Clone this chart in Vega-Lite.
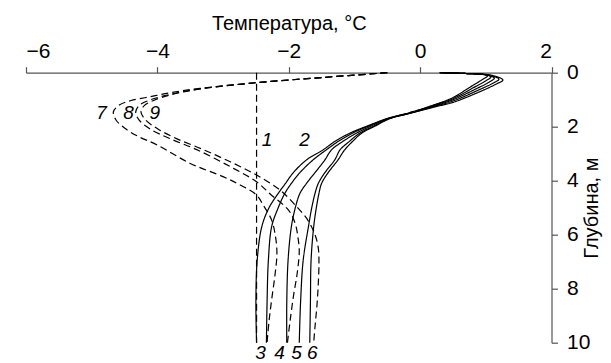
{
  "$schema": "https://vega.github.io/schema/vega-lite/v6.json",
  "autosize": {"type": "none"},
  "padding": {"left": 26, "top": 72.7, "right": 59.5, "bottom": 20.3},
  "width": 525.5,
  "height": 270,
  "config": {
    "view": {"stroke": null},
    "font": "Liberation Sans",
    "axis": {"grid": false, "domainColor": "#555", "tickColor": "#555", "labelColor": "#000", "titleColor": "#000", "labelFont": "Liberation Sans", "titleFont": "Liberation Sans", "labelFontSize": 21, "titleFontSize": 20, "titleFontWeight": "normal", "tickSize": 6, "domainWidth": 1.2, "tickWidth": 1.2}
  },
  "datasets": {
    "curves": [
      {"s": "1", "k": "dashed", "T": -2.49, "d": 0},
      {"s": "1", "k": "dashed", "T": -2.49, "d": 10},

      {"s": "A", "k": "solid", "T": 0.3, "d": 0},
      {"s": "A", "k": "solid", "T": 0.7, "d": 0.03},
      {"s": "A", "k": "solid", "T": 0.95, "d": 0.06},
      {"s": "A", "k": "solid", "T": 1.03, "d": 0.11},
      {"s": "A", "k": "solid", "T": 0.95, "d": 0.25},
      {"s": "A", "k": "solid", "T": 0.75, "d": 0.55},
      {"s": "A", "k": "solid", "T": 0.5, "d": 0.92},
      {"s": "A", "k": "solid", "T": 0.2, "d": 1.2},
      {"s": "A", "k": "solid", "T": -0.15, "d": 1.47},
      {"s": "A", "k": "solid", "T": -0.5, "d": 1.7},
      {"s": "A", "k": "solid", "T": -0.8, "d": 1.97},
      {"s": "A", "k": "solid", "T": -1.07, "d": 2.24},
      {"s": "A", "k": "solid", "T": -1.3, "d": 2.55},
      {"s": "A", "k": "solid", "T": -1.48, "d": 2.86},
      {"s": "A", "k": "solid", "T": -1.73, "d": 3.23},
      {"s": "A", "k": "solid", "T": -1.93, "d": 3.7},
      {"s": "A", "k": "solid", "T": -2.05, "d": 4.1},
      {"s": "A", "k": "solid", "T": -2.16, "d": 4.47},
      {"s": "A", "k": "solid", "T": -2.3, "d": 5.0},
      {"s": "A", "k": "solid", "T": -2.41, "d": 5.7},
      {"s": "A", "k": "solid", "T": -2.48, "d": 6.94},
      {"s": "A", "k": "solid", "T": -2.5, "d": 8.5},
      {"s": "A", "k": "solid", "T": -2.49, "d": 10},

      {"s": "B", "k": "solid", "T": 0.3, "d": 0},
      {"s": "B", "k": "solid", "T": 0.7, "d": 0.03},
      {"s": "B", "k": "solid", "T": 0.97, "d": 0.07},
      {"s": "B", "k": "solid", "T": 1.08, "d": 0.15},
      {"s": "B", "k": "solid", "T": 1.0, "d": 0.3},
      {"s": "B", "k": "solid", "T": 0.8, "d": 0.57},
      {"s": "B", "k": "solid", "T": 0.5, "d": 0.96},
      {"s": "B", "k": "solid", "T": 0.2, "d": 1.22},
      {"s": "B", "k": "solid", "T": -0.15, "d": 1.48},
      {"s": "B", "k": "solid", "T": -0.5, "d": 1.7},
      {"s": "B", "k": "solid", "T": -0.78, "d": 1.97},
      {"s": "B", "k": "solid", "T": -1.03, "d": 2.24},
      {"s": "B", "k": "solid", "T": -1.25, "d": 2.55},
      {"s": "B", "k": "solid", "T": -1.43, "d": 2.86},
      {"s": "B", "k": "solid", "T": -1.63, "d": 3.23},
      {"s": "B", "k": "solid", "T": -1.83, "d": 3.7},
      {"s": "B", "k": "solid", "T": -1.96, "d": 4.1},
      {"s": "B", "k": "solid", "T": -2.06, "d": 4.47},
      {"s": "B", "k": "solid", "T": -2.16, "d": 5.0},
      {"s": "B", "k": "solid", "T": -2.26, "d": 5.7},
      {"s": "B", "k": "solid", "T": -2.31, "d": 6.94},
      {"s": "B", "k": "solid", "T": -2.33, "d": 8.5},
      {"s": "B", "k": "solid", "T": -2.34, "d": 10},

      {"s": "C", "k": "solid", "T": 0.3, "d": 0},
      {"s": "C", "k": "solid", "T": 0.7, "d": 0.03},
      {"s": "C", "k": "solid", "T": 1.0, "d": 0.08},
      {"s": "C", "k": "solid", "T": 1.13, "d": 0.2},
      {"s": "C", "k": "solid", "T": 1.05, "d": 0.35},
      {"s": "C", "k": "solid", "T": 0.85, "d": 0.6},
      {"s": "C", "k": "solid", "T": 0.5, "d": 1.0},
      {"s": "C", "k": "solid", "T": 0.2, "d": 1.24},
      {"s": "C", "k": "solid", "T": -0.15, "d": 1.49},
      {"s": "C", "k": "solid", "T": -0.48, "d": 1.7},
      {"s": "C", "k": "solid", "T": -0.74, "d": 1.97},
      {"s": "C", "k": "solid", "T": -0.97, "d": 2.24},
      {"s": "C", "k": "solid", "T": -1.18, "d": 2.55},
      {"s": "C", "k": "solid", "T": -1.35, "d": 2.86},
      {"s": "C", "k": "solid", "T": -1.45, "d": 3.23},
      {"s": "C", "k": "solid", "T": -1.6, "d": 3.7},
      {"s": "C", "k": "solid", "T": -1.73, "d": 4.1},
      {"s": "C", "k": "solid", "T": -1.83, "d": 4.47},
      {"s": "C", "k": "solid", "T": -1.9, "d": 5.0},
      {"s": "C", "k": "solid", "T": -1.96, "d": 5.7},
      {"s": "C", "k": "solid", "T": -2.01, "d": 6.94},
      {"s": "C", "k": "solid", "T": -2.03, "d": 8.5},
      {"s": "C", "k": "solid", "T": -2.03, "d": 10},

      {"s": "D", "k": "solid", "T": 0.3, "d": 0},
      {"s": "D", "k": "solid", "T": 0.7, "d": 0.03},
      {"s": "D", "k": "solid", "T": 1.05, "d": 0.09},
      {"s": "D", "k": "solid", "T": 1.2, "d": 0.24},
      {"s": "D", "k": "solid", "T": 1.1, "d": 0.4},
      {"s": "D", "k": "solid", "T": 0.9, "d": 0.63},
      {"s": "D", "k": "solid", "T": 0.5, "d": 1.05},
      {"s": "D", "k": "solid", "T": 0.2, "d": 1.26},
      {"s": "D", "k": "solid", "T": -0.15, "d": 1.5},
      {"s": "D", "k": "solid", "T": -0.47, "d": 1.7},
      {"s": "D", "k": "solid", "T": -0.7, "d": 1.97},
      {"s": "D", "k": "solid", "T": -0.92, "d": 2.24},
      {"s": "D", "k": "solid", "T": -1.08, "d": 2.55},
      {"s": "D", "k": "solid", "T": -1.22, "d": 2.86},
      {"s": "D", "k": "solid", "T": -1.3, "d": 3.23},
      {"s": "D", "k": "solid", "T": -1.45, "d": 3.7},
      {"s": "D", "k": "solid", "T": -1.55, "d": 4.1},
      {"s": "D", "k": "solid", "T": -1.6, "d": 4.47},
      {"s": "D", "k": "solid", "T": -1.65, "d": 5.0},
      {"s": "D", "k": "solid", "T": -1.7, "d": 5.7},
      {"s": "D", "k": "solid", "T": -1.78, "d": 6.94},
      {"s": "D", "k": "solid", "T": -1.82, "d": 8.5},
      {"s": "D", "k": "solid", "T": -1.84, "d": 10},

      {"s": "E", "k": "solid", "T": 0.3, "d": 0},
      {"s": "E", "k": "solid", "T": 0.7, "d": 0.03},
      {"s": "E", "k": "solid", "T": 1.1, "d": 0.1},
      {"s": "E", "k": "solid", "T": 1.26, "d": 0.27},
      {"s": "E", "k": "solid", "T": 1.15, "d": 0.43},
      {"s": "E", "k": "solid", "T": 0.95, "d": 0.66},
      {"s": "E", "k": "solid", "T": 0.5, "d": 1.1},
      {"s": "E", "k": "solid", "T": 0.2, "d": 1.28},
      {"s": "E", "k": "solid", "T": -0.16, "d": 1.51},
      {"s": "E", "k": "solid", "T": -0.46, "d": 1.7},
      {"s": "E", "k": "solid", "T": -0.68, "d": 1.97},
      {"s": "E", "k": "solid", "T": -0.89, "d": 2.24},
      {"s": "E", "k": "solid", "T": -1.03, "d": 2.55},
      {"s": "E", "k": "solid", "T": -1.15, "d": 2.86},
      {"s": "E", "k": "solid", "T": -1.25, "d": 3.23},
      {"s": "E", "k": "solid", "T": -1.4, "d": 3.7},
      {"s": "E", "k": "solid", "T": -1.5, "d": 4.1},
      {"s": "E", "k": "solid", "T": -1.54, "d": 4.47},
      {"s": "E", "k": "solid", "T": -1.58, "d": 5.0},
      {"s": "E", "k": "solid", "T": -1.62, "d": 5.7},
      {"s": "E", "k": "solid", "T": -1.66, "d": 6.94},
      {"s": "E", "k": "solid", "T": -1.67, "d": 8.5},
      {"s": "E", "k": "solid", "T": -1.68, "d": 10},

      {"s": "7", "k": "dashed", "T": -0.5, "d": 0},
      {"s": "7", "k": "dashed", "T": -1.5, "d": 0.18},
      {"s": "7", "k": "dashed", "T": -2.49, "d": 0.37},
      {"s": "7", "k": "dashed", "T": -3.35, "d": 0.58},
      {"s": "7", "k": "dashed", "T": -3.8, "d": 0.74},
      {"s": "7", "k": "dashed", "T": -4.11, "d": 0.89},
      {"s": "7", "k": "dashed", "T": -4.4, "d": 1.03},
      {"s": "7", "k": "dashed", "T": -4.58, "d": 1.2},
      {"s": "7", "k": "dashed", "T": -4.67, "d": 1.45},
      {"s": "7", "k": "dashed", "T": -4.63, "d": 1.75},
      {"s": "7", "k": "dashed", "T": -4.5, "d": 2.05},
      {"s": "7", "k": "dashed", "T": -4.3, "d": 2.35},
      {"s": "7", "k": "dashed", "T": -4.0, "d": 2.68},
      {"s": "7", "k": "dashed", "T": -3.5, "d": 3.36},
      {"s": "7", "k": "dashed", "T": -3.0, "d": 3.85},
      {"s": "7", "k": "dashed", "T": -2.74, "d": 4.16},
      {"s": "7", "k": "dashed", "T": -2.49, "d": 4.53},
      {"s": "7", "k": "dashed", "T": -2.39, "d": 4.9},
      {"s": "7", "k": "dashed", "T": -2.26, "d": 5.46},
      {"s": "7", "k": "dashed", "T": -2.2, "d": 6.1},
      {"s": "7", "k": "dashed", "T": -2.18, "d": 6.7},
      {"s": "7", "k": "dashed", "T": -2.21, "d": 7.5},
      {"s": "7", "k": "dashed", "T": -2.26, "d": 8.4},
      {"s": "7", "k": "dashed", "T": -2.3, "d": 9.2},
      {"s": "7", "k": "dashed", "T": -2.33, "d": 10},

      {"s": "8", "k": "dashed", "T": -0.5, "d": 0},
      {"s": "8", "k": "dashed", "T": -1.5, "d": 0.18},
      {"s": "8", "k": "dashed", "T": -2.49, "d": 0.37},
      {"s": "8", "k": "dashed", "T": -3.35, "d": 0.6},
      {"s": "8", "k": "dashed", "T": -3.8, "d": 0.8},
      {"s": "8", "k": "dashed", "T": -4.1, "d": 1.0},
      {"s": "8", "k": "dashed", "T": -4.27, "d": 1.2},
      {"s": "8", "k": "dashed", "T": -4.33, "d": 1.45},
      {"s": "8", "k": "dashed", "T": -4.28, "d": 1.75},
      {"s": "8", "k": "dashed", "T": -4.1, "d": 2.1},
      {"s": "8", "k": "dashed", "T": -3.8, "d": 2.45},
      {"s": "8", "k": "dashed", "T": -3.4, "d": 2.85},
      {"s": "8", "k": "dashed", "T": -2.89, "d": 3.48},
      {"s": "8", "k": "dashed", "T": -2.49, "d": 4.04},
      {"s": "8", "k": "dashed", "T": -2.28, "d": 4.5},
      {"s": "8", "k": "dashed", "T": -2.0, "d": 5.1},
      {"s": "8", "k": "dashed", "T": -1.9, "d": 5.6},
      {"s": "8", "k": "dashed", "T": -1.86, "d": 6.1},
      {"s": "8", "k": "dashed", "T": -1.84, "d": 6.6},
      {"s": "8", "k": "dashed", "T": -1.87, "d": 7.4},
      {"s": "8", "k": "dashed", "T": -1.93, "d": 8.3},
      {"s": "8", "k": "dashed", "T": -1.98, "d": 9.2},
      {"s": "8", "k": "dashed", "T": -2.02, "d": 10},

      {"s": "9", "k": "dashed", "T": -0.5, "d": 0},
      {"s": "9", "k": "dashed", "T": -1.5, "d": 0.18},
      {"s": "9", "k": "dashed", "T": -2.49, "d": 0.37},
      {"s": "9", "k": "dashed", "T": -3.35, "d": 0.6},
      {"s": "9", "k": "dashed", "T": -3.8, "d": 0.82},
      {"s": "9", "k": "dashed", "T": -4.05, "d": 1.02},
      {"s": "9", "k": "dashed", "T": -4.2, "d": 1.22},
      {"s": "9", "k": "dashed", "T": -4.25, "d": 1.45},
      {"s": "9", "k": "dashed", "T": -4.18, "d": 1.75},
      {"s": "9", "k": "dashed", "T": -3.98, "d": 2.1},
      {"s": "9", "k": "dashed", "T": -3.7, "d": 2.45},
      {"s": "9", "k": "dashed", "T": -3.3, "d": 2.85},
      {"s": "9", "k": "dashed", "T": -2.89, "d": 3.3},
      {"s": "9", "k": "dashed", "T": -2.49, "d": 3.79},
      {"s": "9", "k": "dashed", "T": -2.13, "d": 4.35},
      {"s": "9", "k": "dashed", "T": -1.88, "d": 4.96},
      {"s": "9", "k": "dashed", "T": -1.71, "d": 5.46},
      {"s": "9", "k": "dashed", "T": -1.6, "d": 6.0},
      {"s": "9", "k": "dashed", "T": -1.55, "d": 6.5},
      {"s": "9", "k": "dashed", "T": -1.54, "d": 7.0},
      {"s": "9", "k": "dashed", "T": -1.55, "d": 7.8},
      {"s": "9", "k": "dashed", "T": -1.57, "d": 8.6},
      {"s": "9", "k": "dashed", "T": -1.6, "d": 9.4},
      {"s": "9", "k": "dashed", "T": -1.62, "d": 10}
    ],
    "labels": [
      {"t": "1", "T": -2.33, "d": 2.49},
      {"t": "2", "T": -1.76, "d": 2.49},
      {"t": "7", "T": -4.85, "d": 1.5},
      {"t": "8", "T": -4.44, "d": 1.5},
      {"t": "9", "T": -4.04, "d": 1.48},
      {"t": "3", "T": -2.43, "d": 10.38},
      {"t": "4", "T": -2.14, "d": 10.38},
      {"t": "5", "T": -1.88, "d": 10.38},
      {"t": "6", "T": -1.64, "d": 10.38}
    ]
  },
  "encoding": {
    "x": {"field": "T", "type": "quantitative", "scale": {"domain": [-6, 2], "nice": false, "zero": false},
      "axis": {"orient": "top", "values": [-6, -4, -2, 0, 2], "title": "Температура, °C", "labelPadding": 5, "titlePadding": 7}},
    "y": {"field": "d", "type": "quantitative", "scale": {"domain": [0, 10], "reverse": true, "nice": false, "zero": false},
      "axis": {"orient": "right", "values": [0, 2, 4, 6, 8, 10], "title": "Глубина, м", "titleAngle": 270, "labelPadding": 9, "titlePadding": 12}}
  },
  "layer": [
    {
      "data": {"name": "curves"},
      "mark": {"type": "line", "interpolate": "catmull-rom", "color": "#000", "strokeWidth": 1.2},
      "encoding": {
        "detail": {"field": "s", "type": "nominal"},
        "order": {"field": "d", "type": "quantitative"},
        "strokeDash": {"field": "k", "type": "nominal", "scale": {"domain": ["solid", "dashed"], "range": [[1, 0], [7, 4]]}, "legend": null}
      }
    },
    {
      "data": {"name": "labels"},
      "mark": {"type": "text", "fontSize": 19, "fontStyle": "italic", "font": "Liberation Sans", "color": "#000", "align": "center", "baseline": "middle"},
      "encoding": {"text": {"field": "t", "type": "nominal"}}
    }
  ]
}
